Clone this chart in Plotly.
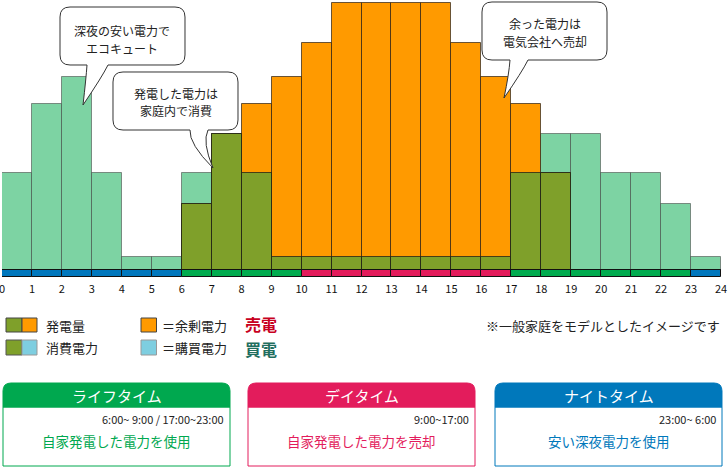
import numpy as np
import plotly.graph_objects as go

# ---------------- data ----------------
hours = list(range(24))
consumption = [9.7, 16.6, 19.3, 9.7, 1.3, 1.3, 9.7, 13.6, 9.7, 1.3, 1.3, 1.3,
               1.3, 1.3, 1.3, 1.3, 1.3, 9.7, 13.6, 13.6, 9.7, 9.7, 6.6, 1.3]
generation = [0, 0, 0, 0, 0, 0, 6.6, 13.6, 16.6, 19.3, 22.7, 26.7,
              26.7, 26.7, 26.7, 22.7, 19.3, 16.6, 9.7, 0, 0, 0, 0, 0]
periods = ["night"] * 6 + ["life"] * 4 + ["day"] * 7 + ["life"] * 6 + ["night"]
tick_labels = [str(i) for i in range(25)]

# ---------------- styles ----------------
FONT = "Noto Sans CJK JP"
C_LIGHT = "#7dd3a3"
C_OLIVE = "#7fa02a"
C_ORANGE = "#ff9a00"
C_BLUE_LEG = "#7ecee0"
PERIOD_COL = {"night": "#0077bd", "life": "#00ab4e", "day": "#e31b5b"}

W_FIG, H_FIG = 728, 468
L, R, T = 2, 7, 0
PH = 278
B = H_FIG - PH - T
PW = W_FIG - L - R


def X(px):
    return (px - L) / PW


def Y(py):
    return (PH - py) / PH


def P(x, y):
    return f"{X(x):.5f},{Y(y):.5f}"


xc = [h + 0.5 for h in hours]
olive = np.minimum(np.array(generation), np.array(consumption))

fig = go.Figure()
fig.add_trace(go.Bar(x=xc, y=consumption, width=1, marker=dict(color=C_LIGHT,
              line=dict(color="rgba(60,60,60,0.55)", width=1)), hoverinfo="skip"))
fig.add_trace(go.Bar(x=xc, y=generation, width=1, marker=dict(color=C_ORANGE,
              line=dict(color="rgba(40,30,20,0.7)", width=1)), hoverinfo="skip"))
fig.add_trace(go.Bar(x=xc, y=olive, width=1, marker=dict(color=C_OLIVE,
              line=dict(color="rgba(20,20,20,0.7)", width=1)), hoverinfo="skip"))
fig.add_trace(go.Bar(x=xc, y=[0.7] * 24, base=[-0.7] * 24, width=1,
              marker=dict(color=[PERIOD_COL[p] for p in periods],
                          line=dict(color="#111", width=1)), hoverinfo="skip"))

shapes = []
annos = []


def text(x, y, s, size=13, color="#222", anchor="center", bold=False):
    annos.append(dict(x=X(x), y=Y(y), xref="paper", yref="paper", text=(f"<b>{s}</b>" if bold else s),
                      showarrow=False, xanchor=anchor, yanchor="middle", align="center",
                      borderpad=0,
                      font=dict(family=FONT, size=size, color=color)))


def bubble(x0, y0, x1, y1, tail, r=10):
    bx0, tx, ty, bx1 = tail
    d = (f"M {P(x0 + r, y0)} L {P(x1 - r, y0)} Q {P(x1, y0)} {P(x1, y0 + r)} "
         f"L {P(x1, y1 - r)} Q {P(x1, y1)} {P(x1 - r, y1)} L {P(bx1, y1)} "
         f"Q {P(bx1 - 6, y1 + 12)} {P(tx, ty)} Q {P(bx0 - 1, y1 + 14)} {P(bx0, y1)} "
         f"L {P(x0 + r, y1)} Q {P(x0, y1)} {P(x0, y1 - r)} L {P(x0, y0 + r)} Q {P(x0, y0)} {P(x0 + r, y0)} Z")
    shapes.append(dict(type="path", xref="paper", yref="paper", path=d, layer="above",
                       fillcolor="white", line=dict(color="#333", width=1)))


bubble(60, 7, 185, 65, (87, 83, 105, 108))
text(122, 30, "深夜の安い電力で", size=12)
text(122, 48, "エコキュート", size=12)
bubble(113, 72, 238, 130, (190, 213, 168, 208))
text(175.5, 93, "発電した電力は", size=12)
text(175.5, 111, "家庭内で消費", size=12)
bubble(482, 2, 607, 60, (510, 504, 98, 528))
text(545, 23.5, "余った電力は", size=12)
text(545, 41.5, "電気会社へ売却", size=12)

# ---------------- legend ----------------


def rect(x0, y0, x1, y1, fill, line="#444", lw=1):
    shapes.append(dict(type="rect", xref="paper", yref="paper", x0=X(x0), x1=X(x1), y0=Y(y0), y1=Y(y1),
                       fillcolor=fill, line=dict(color=line, width=lw), layer="above"))


rect(6, 318, 22, 332, C_OLIVE)
rect(22, 318, 37, 332, C_ORANGE)
rect(6, 340, 22, 355, C_OLIVE, line="#555")
rect(22, 340, 37, 355, C_BLUE_LEG, line="#999")
text(45, 325.5, "発電量", anchor="left")
text(45, 347.5, "消費電力", anchor="left")
rect(141, 318, 156.5, 332, C_ORANGE)
rect(141, 340, 156.5, 355, C_BLUE_LEG, line="#999")
text(161, 325.5, "＝余剰電力", anchor="left")
text(161, 347.5, "＝購買電力", anchor="left")
text(244, 324, "売電", size=16, color="#c8001e", anchor="left", bold=True)
text(244, 348.5, "買電", size=16, color="#1f6e5e", anchor="left", bold=True)
text(721, 325.5, "※一般家庭をモデルとしたイメージです", anchor="right")

# ---------------- period boxes ----------------
boxes = [
    (3, 230, "#00a84f", "ライフタイム", "6:00~ 9:00 / 17:00~23:00", "自家発電した電力を使用"),
    (248, 475, "#e31c5c", "デイタイム", "9:00~17:00", "自家発電した電力を売却"),
    (495, 722, "#0078bb", "ナイトタイム", "23:00~ 6:00", "安い深夜電力を使用"),
]
for x0, x1, col, title, times, desc in boxes:
    y0, ym, y1, r = 383, 407, 466, 8
    rect(x0, ym, x1, y1, "white", line=col, lw=1)
    d = (f"M {P(x0, ym)} L {P(x0, y0 + r)} Q {P(x0, y0)} {P(x0 + r, y0)} L {P(x1 - r, y0)} "
         f"Q {P(x1, y0)} {P(x1, y0 + r)} L {P(x1, ym)} Z")
    shapes.append(dict(type="path", xref="paper", yref="paper", path=d, layer="above",
                       fillcolor=col, line=dict(color=col, width=1)))
    text((x0 + x1) / 2, 395.5, title, size=15, color="white")
    text(x1 - 5, 419, times, size=11, color="#222", anchor="right")
    text((x0 + x1) / 2, 441, desc, size=13.5, color=col)

fig.update_layout(
    width=W_FIG, height=H_FIG,
    margin=dict(l=L, r=R, t=T, b=B, pad=0),
    barmode="overlay", bargap=0,
    showlegend=False,
    plot_bgcolor="white", paper_bgcolor="white",
    font=dict(family=FONT, size=11, color="#111"),
    xaxis=dict(range=[0, 24], tickvals=list(range(25)), ticktext=tick_labels, ticks="",
               showgrid=False, zeroline=False, showline=False, ticklabeloverflow="allow",
               ticklabelstandoff=3,
               tickfont=dict(family=FONT, size=11, color="#111"), fixedrange=True),
    yaxis=dict(range=[-0.8, 27.0], visible=False, fixedrange=True),
    shapes=shapes, annotations=annos,
)

fig.write_html("out.html")
